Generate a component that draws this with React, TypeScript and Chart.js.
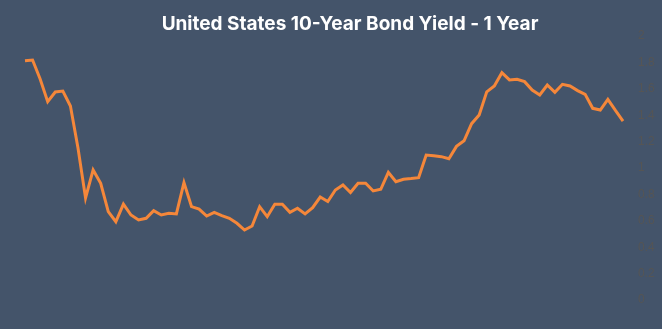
import React, { useEffect, useRef } from "react";
import { Chart, registerables } from "chart.js";

Chart.register(...registerables);

const TITLE = "United States 10-Year Bond Yield - 1 Year";

const yieldValues: number[] = [
  1.813, 1.818, 1.674, 1.502, 1.576, 1.583, 1.47, 1.152, 0.773, 0.985,
  0.884, 0.669, 0.593, 0.727, 0.644, 0.606, 0.619, 0.677, 0.644, 0.657,
  0.652, 0.889, 0.707, 0.689, 0.636, 0.664, 0.639, 0.619, 0.581, 0.53,
  0.561, 0.707, 0.631, 0.725, 0.725, 0.664, 0.695, 0.652, 0.699, 0.78,
  0.746, 0.833, 0.871, 0.814, 0.884, 0.884, 0.826, 0.839, 0.967, 0.896,
  0.915, 0.92, 0.927, 1.098, 1.093, 1.086, 1.07, 1.164, 1.206, 1.336,
  1.402, 1.577, 1.621, 1.722, 1.667, 1.672, 1.654, 1.591, 1.553, 1.629,
  1.573, 1.634, 1.621, 1.586, 1.558, 1.452, 1.439, 1.52, 1.436, 1.356,
];

const categories: string[] = yieldValues.map((_, i) => `W${i + 1}`);

const yMin = 0;
const yMax = 2;
const yStep = 0.2;

const BG = "#44546A";

export default function App() {
  const ref = useRef<HTMLCanvasElement | null>(null);

  useEffect(() => {
    document.body.style.margin = "0";
    document.body.style.background = BG;
    if (!ref.current) return;

    const titlePlugin = {
      id: "customTitle",
      afterDraw(chart: any) {
        const ctx = chart.ctx;
        ctx.save();
        ctx.fillStyle = "#ffffff";
        ctx.font = "700 19px Inter";
        ctx.textAlign = "center";
        ctx.textBaseline = "middle";
        ctx.fillText(TITLE, 350, 24);
        ctx.restore();
      },
    };

    const chart = new Chart(ref.current, {
      type: "line",
      data: {
        labels: categories,
        datasets: [
          {
            data: yieldValues,
            borderColor: "#F5873A",
            borderWidth: 3,
            pointRadius: 0,
            tension: 0,
            fill: false,
          },
        ],
      },
      options: {
        animation: false,
        responsive: false,
        maintainAspectRatio: false,
        layout: { padding: { left: 25, right: 7, top: 36, bottom: 29 } },
        plugins: {
          legend: { display: false },
          title: { display: false },
          tooltip: { enabled: false },
        },
        scales: {
          x: { display: false },
          y: {
            position: "right",
            min: yMin,
            max: yMax,
            border: { display: false },
            grid: { display: false, drawTicks: false },
            afterFit: (scale: any) => {
              scale.width = 32;
            },
            ticks: {
              stepSize: yStep,
              padding: 15,
              color: "#555",
              font: { size: 12, family: "Liberation Sans" },
              callback: (v: any) => String(Number(Number(v).toFixed(1))),
            },
          },
        },
      },
      plugins: [titlePlugin],
    });
    return () => chart.destroy();
  }, []);

  return (
    <div style={{ width: 662, height: 329, background: BG }}>
      <canvas ref={ref} width={662} height={329} />
    </div>
  );
}
